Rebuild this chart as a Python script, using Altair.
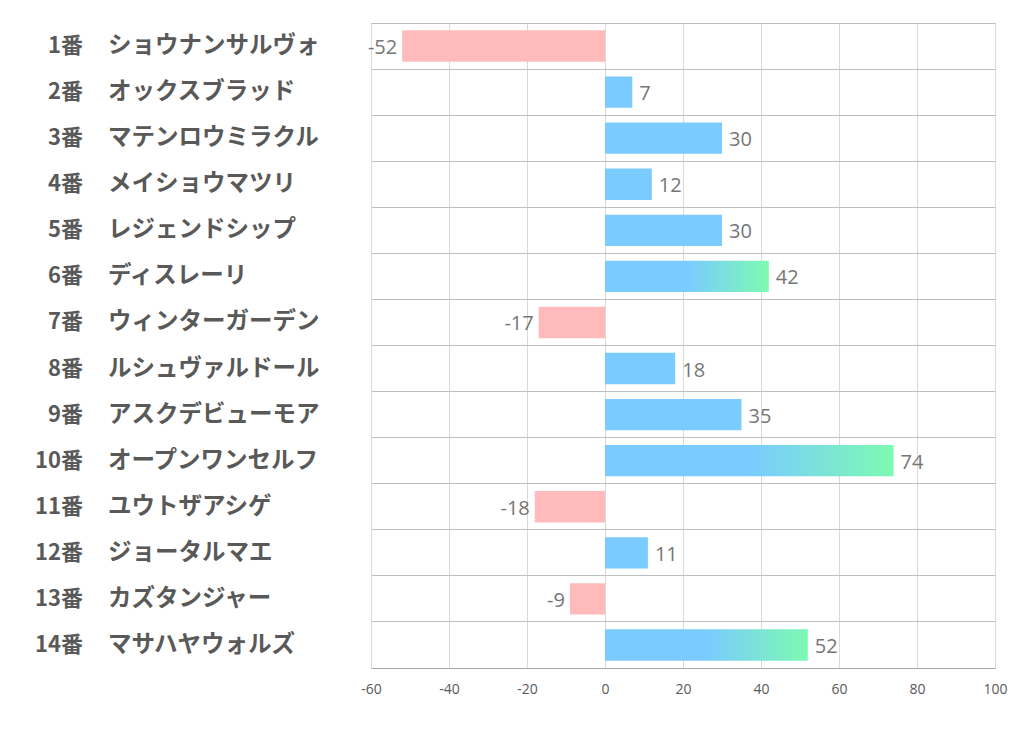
import altair as alt
import pandas as pd

nums = ["1番", "2番", "3番", "4番", "5番", "6番", "7番", "8番", "9番", "10番", "11番", "12番", "13番", "14番"]
names = ["ショウナンサルヴォ", "オックスブラッド", "マテンロウミラクル", "メイショウマツリ", "レジェンドシップ",
         "ディスレーリ", "ウィンターガーデン", "ルシュヴァルドール", "アスクデビューモア", "オープンワンセルフ",
         "ユウトザアシゲ", "ジョータルマエ", "カズタンジャー", "マサハヤウォルズ"]
values = [-52, 7, 30, 12, 30, 42, -17, 18, 35, 74, -18, 11, -9, 52]
x_ticks = [-60, -40, -20, 0, 20, 40, 60, 80, 100]

df = pd.DataFrame({"num": nums, "name": names, "value": values})
df["key"] = df["num"]
df["label"] = df["value"].astype(str)

order = nums
FONT = "Noto Sans CJK JP"

y_enc = alt.Y("key:N", sort=order,
              scale=alt.Scale(paddingInner=0, paddingOuter=0),
              axis=alt.Axis(labels=False, ticks=False, domain=False, title=None,
                            grid=True, bandPosition=0, gridColor="#bfbfbf", gridWidth=1))
x_enc = alt.X("value:Q", scale=alt.Scale(domain=[-60, 100], nice=False, zero=False),
              axis=alt.Axis(values=x_ticks, title=None,
                            grid=True, gridColor="#d9d9d9", ticks=False,
                            domainColor="#a6a6a6", labelColor="#595959",
                            labelExpr="datum.value + ''", labelFlush=False,
                            labelFont="Open Sans", labelFontSize=14, labelPadding=14))

base = alt.Chart(df)

neg = base.transform_filter("datum.value < 0").mark_bar(
    color="#ffbbbb", height={"band": 0.68}).encode(x=x_enc, x2=alt.datum(0), y=y_enc)

pos = base.transform_filter("datum.value >= 0 && datum.value < 40").mark_bar(
    color="#7acbff", height={"band": 0.68}).encode(x=x_enc, x2=alt.datum(0), y=y_enc)

grad = base.transform_filter("datum.value >= 40").mark_bar(
    height={"band": 0.68},
    color=alt.Gradient(gradient="linear", x1=0, x2=1, y1=0, y2=0,
                       stops=[alt.GradientStop(color="#7acbff", offset=0),
                              alt.GradientStop(color="#7acbff", offset=0.5),
                              alt.GradientStop(color="#7dfab2", offset=1)])
).encode(x=x_enc, x2=alt.datum(0), y=y_enc)

lab_pos = base.transform_filter("datum.value >= 0").mark_text(
    align="left", baseline="middle", dx=7, dy=2, font="Open Sans", fontSize=20, color="#767676"
).encode(x="value:Q", y=alt.Y("key:N", sort=order), text="label:N")

lab_neg = base.transform_filter("datum.value < 0").mark_text(
    align="right", baseline="middle", dx=-5, dy=2, font="Open Sans", fontSize=20, color="#767676"
).encode(x="value:Q", y=alt.Y("key:N", sort=order), text="label:N")

num_lab = base.mark_text(
    align="right", baseline="middle", font=FONT, fontSize=22, fontWeight="bold", color="#595959"
).encode(x=alt.value(-288), y=alt.Y("key:N", sort=order), text="num:N")

name_lab = base.mark_text(
    align="left", baseline="middle", font=FONT, fontSize=23.5, fontWeight="bold", color="#595959"
).encode(x=alt.value(-263), y=alt.Y("key:N", sort=order), text="name:N")

chart = alt.layer(neg, pos, grad, lab_pos, lab_neg, num_lab, name_lab).properties(
    width=624, height=645,
    autosize=alt.AutoSizeParams(type="none"),
    padding={"left": 363, "top": 15, "right": 14, "bottom": 50},
).configure_view(stroke=None).configure(background="white")

chart.save("out.html", embed_options={"renderer": "svg", "actions": False})
